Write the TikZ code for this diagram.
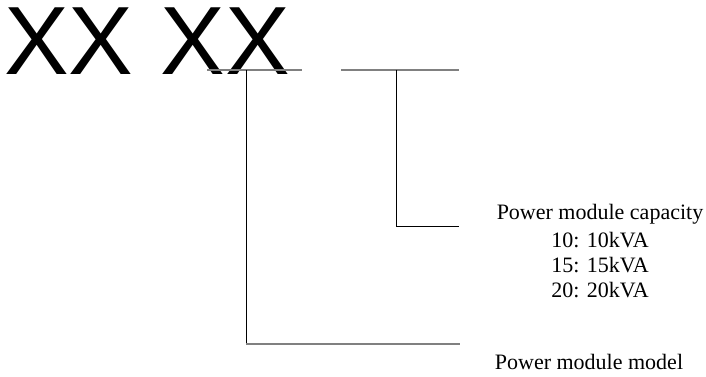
\documentclass[tikz,border=0pt]{standalone}
\usepackage{fontspec}
\setmainfont{Liberation Serif}
\newfontfamily\codefont{Liberation Sans}
\usepackage{xcolor}
\usetikzlibrary{positioning}

\tikzset{
  leader/.style={gray,line width=1.6pt},
  stem/.style={black,line width=1pt},
  lbl/.style={anchor=base,inner sep=0pt,font=\fontsize{22}{25}\selectfont}
}

\begin{document}
\begin{tikzpicture}[x=1pt,y=-1pt]
  \useasboundingbox (0,0) rectangle (706,377);
  \node[anchor=base west,inner sep=0pt,font=\codefont\fontsize{97}{97}\selectfont] (code) at (4,75) {XX XX};
  % bar points under the code
  \coordinate (m1) at (207,70);
  \coordinate (m2) at (302,70);
  \coordinate (c1) at (341,70);
  \coordinate (c2) at (459,70);
  \coordinate (mtop) at (246,70);
  \coordinate (mbot) at (246,344);
  \coordinate (mend) at (460,344);
  \coordinate (ctop) at (396,70);
  \coordinate (cbot) at (396,226);
  \coordinate (cend) at (459,226);
  \draw[leader] (m1) -- (m2);
  \draw[leader] (c1) -- (c2);
  \draw[stem] (mtop) -- (mbot);
  \draw[leader] (mbot) -- (mend);
  \draw[stem] (ctop) -- (cbot) -- (cend);
  % labels
  \node[lbl] (cap) at (600,219) {Power module capacity};
  \node[lbl] (cap10) at (600,247) {10: 10kVA};
  \node[lbl] (cap15) at (600,272) {15: 15kVA};
  \node[lbl] (cap20) at (600,297) {20: 20kVA};
  \node[lbl] (model) at (589,369) {Power module model};
\end{tikzpicture}
\end{document}
